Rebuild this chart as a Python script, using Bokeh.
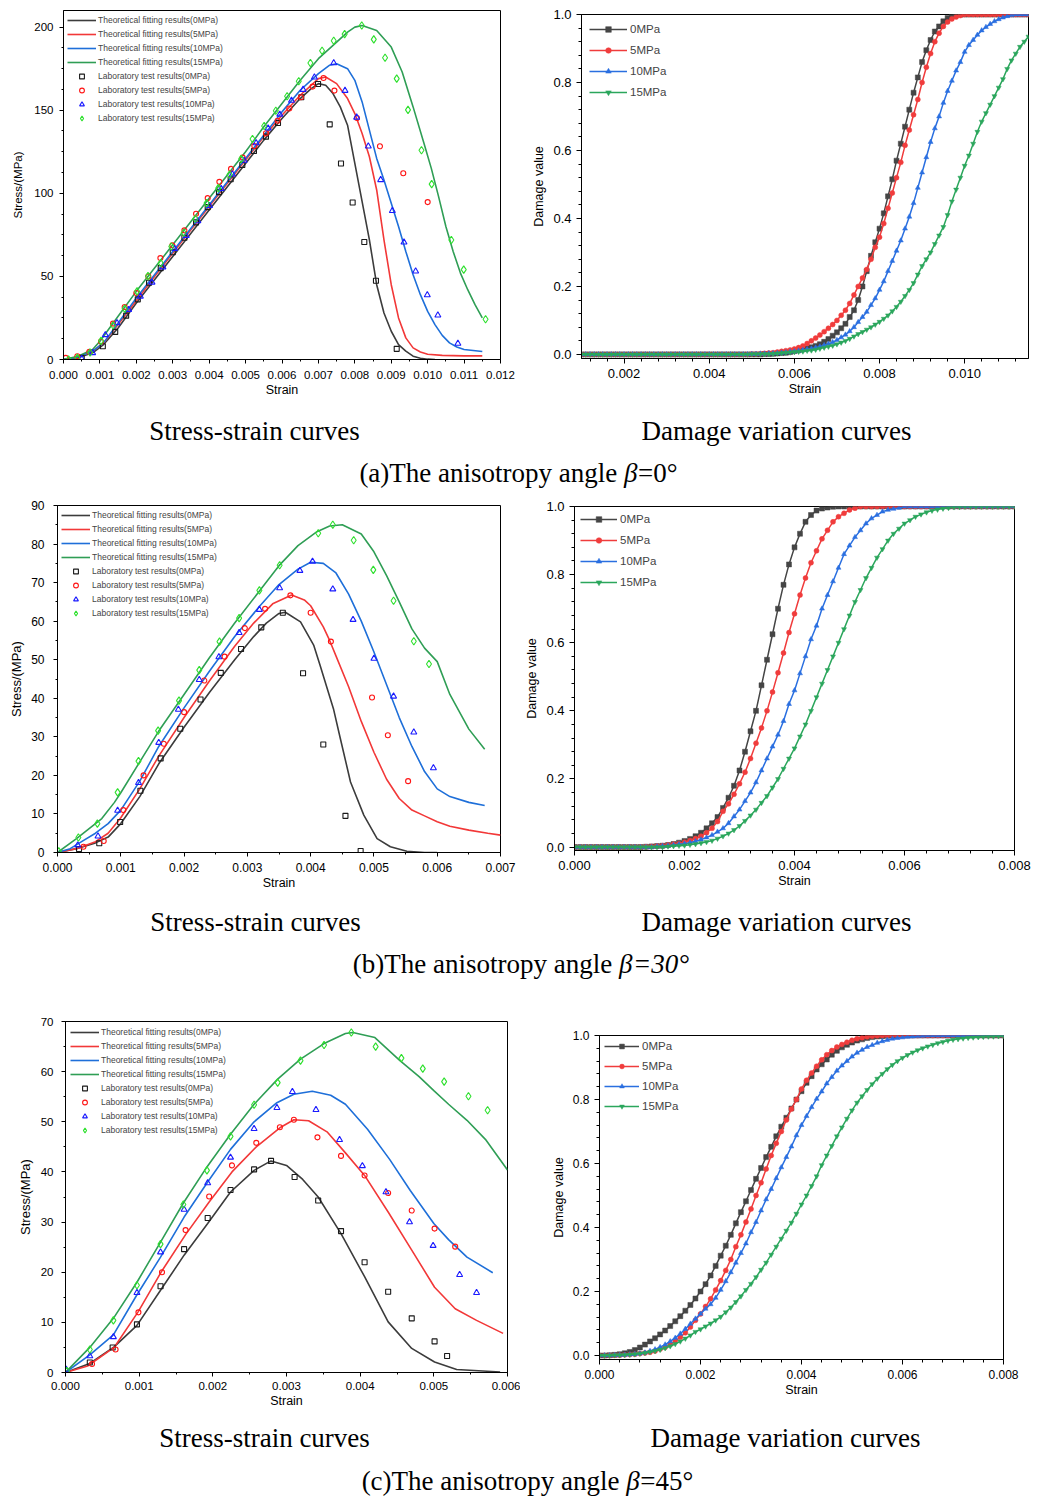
from bokeh.plotting import figure
from bokeh.layouts import column, row
from bokeh.models import Range1d, FixedTicker, PrintfTickFormatter, Legend, LegendItem
from bokeh.core.properties import value
from bokeh.embed import file_html
from bokeh.resources import INLINE

# ---------------------------------------------------------------- data
PRESSURES = ["0MPa", "5MPa", "10MPa", "15MPa"]

# ---- (a) beta = 0 deg : stress-strain
sa_fit_x = [
    [0, 0.0004, 0.0008, 0.0011, 0.0015, 0.002, 0.0025, 0.003, 0.0035, 0.004, 0.0045, 0.005, 0.0055, 0.006, 0.0065, 0.0068, 0.007, 0.0072, 0.0074, 0.0076, 0.0078, 0.008, 0.0082, 0.0084, 0.0086, 0.0088, 0.009, 0.0092, 0.0094, 0.0096, 0.0098, 0.01, 0.0102],
    [0, 0.0004, 0.0008, 0.0011, 0.0015, 0.002, 0.0025, 0.003, 0.0035, 0.004, 0.0045, 0.005, 0.0055, 0.006, 0.0065, 0.0068, 0.007, 0.0072, 0.0075, 0.0078, 0.008, 0.0082, 0.0084, 0.0086, 0.0088, 0.009, 0.0092, 0.0094, 0.0096, 0.0098, 0.01, 0.0104, 0.011, 0.0115],
    [0, 0.0004, 0.0008, 0.0011, 0.0015, 0.002, 0.0025, 0.003, 0.0035, 0.004, 0.0045, 0.005, 0.0055, 0.006, 0.0065, 0.007, 0.0073, 0.0075, 0.0078, 0.008, 0.0082, 0.0084, 0.0086, 0.0088, 0.009, 0.0092, 0.0094, 0.0096, 0.0098, 0.01, 0.0102, 0.0104, 0.0106, 0.0108, 0.011, 0.0115],
    [0, 0.0004, 0.0008, 0.001, 0.0015, 0.002, 0.0025, 0.003, 0.0035, 0.004, 0.0045, 0.005, 0.0055, 0.006, 0.0065, 0.007, 0.0075, 0.0078, 0.008, 0.0082, 0.0086, 0.009, 0.0093, 0.0096, 0.0099, 0.0101, 0.0103, 0.0105, 0.0107, 0.0109, 0.0111, 0.0113, 0.0115],
]
sa_fit_y = [
    [0, 1, 4, 9, 19, 34, 48, 62, 76, 90, 104, 118, 132, 145, 157, 163, 166, 165, 160, 152, 141, 118, 95, 72, 45, 28, 17, 9, 5, 2, 0.8, 0.2, 0],
    [0, 1.5, 5, 10, 21, 35.5, 50, 64, 78, 92, 106, 120, 134, 147, 159, 165, 169, 170, 166, 157, 148, 136, 122, 102, 72, 45, 25, 13, 7, 4.5, 3.2, 2.5, 2.2, 2.2],
    [0, 1.5, 5, 10, 22, 37, 51, 65, 79, 93, 107, 121, 135, 149, 162, 172, 177, 178, 175, 168, 155, 138, 121, 108, 94, 80, 65, 51, 39, 29, 21, 14.5, 10, 7.5, 6, 4.8],
    [0, 2, 6, 11, 26, 41, 55, 69, 83, 97, 111, 125, 140, 154, 168, 181, 191, 197, 200, 201, 198, 188, 173, 152, 130, 115, 98, 80, 65, 52, 42, 33, 25],
]
sa_lab_x = [
    [0.0005, 0.00108, 0.00142, 0.00172, 0.00204, 0.00235, 0.00267, 0.003, 0.00332, 0.00364, 0.00396, 0.00427, 0.00459, 0.00491, 0.00523, 0.00556, 0.00589, 0.00653, 0.00699, 0.00731, 0.00762, 0.00794, 0.00826, 0.00858, 0.00915],
    [0.00006, 0.00038, 0.00071, 0.00103, 0.00136, 0.00168, 0.002, 0.00233, 0.00266, 0.00299, 0.00332, 0.00364, 0.00396, 0.00428, 0.0046, 0.00492, 0.00524, 0.00556, 0.00588, 0.0062, 0.00652, 0.00684, 0.00714, 0.00744, 0.00806, 0.00869, 0.00933, 0.01],
    [0.0005, 0.0008, 0.00115, 0.00147, 0.00179, 0.00211, 0.00243, 0.00273, 0.00305, 0.00337, 0.00369, 0.00401, 0.00433, 0.00464, 0.00496, 0.00529, 0.00562, 0.00594, 0.00626, 0.00658, 0.00689, 0.00742, 0.00773, 0.00805, 0.00837, 0.00871, 0.00903, 0.00935, 0.00967, 0.00999, 0.01028, 0.01083],
    [0.00014, 0.00038, 0.00073, 0.00103, 0.00136, 0.00168, 0.00202, 0.00232, 0.00267, 0.00296, 0.0033, 0.00362, 0.00393, 0.00425, 0.00456, 0.00488, 0.00519, 0.00551, 0.00583, 0.00614, 0.00646, 0.00678, 0.0071, 0.00742, 0.00772, 0.00819, 0.00852, 0.00883, 0.00915, 0.00946, 0.00983, 0.01011, 0.01065, 0.01099, 0.01159],
]
sa_lab_y = [
    [1, 8, 16.6, 26.4, 36.2, 46.2, 55, 64.5, 73.3, 82.5, 91.7, 100.7, 108.5, 117, 125.5, 134.1, 142.3, 157.8, 165.8, 141.5, 117.9, 94.5, 70.7, 47.4, 6.4],
    [1, 2, 4.6, 10.8, 21.6, 31.6, 40, 50, 61, 68.7, 77.7, 87.7, 97.1, 106.9, 114.7, 121.5, 128.5, 136.1, 143.7, 151, 157.8, 164.2, 169.4, 161.8, 145.3, 128.3, 112.1, 94.7],
    [0.5, 4, 14.8, 22, 30, 38, 46.4, 55.6, 66.7, 74.5, 83.3, 92.5, 102.7, 111.5, 119.7, 130.3, 139.1, 147.5, 155.8, 162.4, 169.8, 178.4, 161.8, 145.7, 128.3, 108.1, 89.5, 70.5, 53.1, 38.8, 26.6, 9.6],
    [0, 1, 4.2, 11.2, 20.6, 30.6, 41, 50.2, 58, 68, 76.3, 84.7, 94.1, 103.1, 111.3, 120.7, 132.7, 140.5, 149.7, 158.4, 167.4, 178.4, 185.8, 191.8, 195.8, 201, 192.6, 181.6, 169, 150.2, 125.9, 105.5, 71.9, 54.1, 24.2],
]

# ---- (b) beta = 30 deg : stress-strain
sb_fit_x = [
    [0, 0.0003, 0.0006, 0.0008, 0.001, 0.0013, 0.0016, 0.002, 0.0024, 0.0028, 0.0031, 0.0033, 0.0035, 0.0036, 0.00384, 0.00405, 0.00415, 0.00436, 0.00447, 0.00463, 0.00484, 0.00505, 0.00526, 0.00552, 0.0058, 0.006],
    [0, 0.0003, 0.0006, 0.0008, 0.001, 0.0013, 0.0016, 0.002, 0.0024, 0.0028, 0.0031, 0.0034, 0.0037, 0.0039, 0.004, 0.0042, 0.0043, 0.0044, 0.0046, 0.0048, 0.005, 0.0052, 0.0054, 0.0056, 0.0058, 0.006, 0.0062, 0.0065, 0.0068, 0.007],
    [0, 0.0002, 0.0004, 0.0006, 0.0008, 0.001, 0.0013, 0.0016, 0.002, 0.0024, 0.0028, 0.0032, 0.0035, 0.0038, 0.004, 0.0042, 0.0044, 0.0046, 0.0048, 0.005, 0.0052, 0.0054, 0.0056, 0.0058, 0.006, 0.0062, 0.0065, 0.00675],
    [0, 0.0003, 0.0007, 0.0009, 0.001, 0.0013, 0.0016, 0.002, 0.0024, 0.0028, 0.0032, 0.0035, 0.0038, 0.0041, 0.0043, 0.0045, 0.0048, 0.005, 0.0052, 0.0054, 0.0056, 0.0058, 0.006, 0.0062, 0.0065, 0.00675],
]
sb_fit_y = [
    [0, 1, 2.5, 4, 7.5, 14.5, 23, 32.5, 41.5, 50, 56, 59.5, 62, 62.3, 59.8, 53.7, 48.5, 37.3, 29.5, 18.3, 9.7, 3.6, 1.5, 0.3, 0, 0],
    [0, 1, 2.8, 5, 9, 16.5, 25, 35, 44.5, 53.5, 59.5, 64.5, 66.8, 65.5, 64, 58.5, 55, 51, 43, 34, 26, 19, 14, 11, 9.5, 8, 6.8, 5.8, 5, 4.5],
    [0, 1, 3, 5, 7.5, 11, 18.5, 27.5, 37.5, 47, 56, 64, 69.5, 73.5, 75.3, 75, 72.5, 67, 60, 52, 43.5, 35, 27.5, 21, 16.5, 14.5, 13, 12.2],
    [0, 3.6, 8.8, 13, 15.5, 23.5, 31.5, 41, 50.5, 59.5, 68, 74.4, 79.6, 83.2, 84.7, 85, 82.6, 78, 71.8, 65, 58, 53, 49.5, 41, 32, 26.8],
]
sb_lab_x = [
    [0.00034, 0.00066, 0.00099, 0.00131, 0.00163, 0.00194, 0.00226, 0.00258, 0.0029, 0.00322, 0.00356, 0.00388, 0.0042, 0.00455, 0.00479],
    [0.00041, 0.00073, 0.00104, 0.00136, 0.00168, 0.002, 0.00232, 0.00264, 0.00296, 0.00328, 0.00368, 0.004, 0.00432, 0.00497, 0.00522, 0.00554],
    [0.00032, 0.00064, 0.00095, 0.00128, 0.0016, 0.00191, 0.00224, 0.00255, 0.00287, 0.00319, 0.00351, 0.00383, 0.00403, 0.00435, 0.00467, 0.005, 0.00531, 0.00563, 0.00594],
    [0.00002, 0.00033, 0.00063, 0.00095, 0.00128, 0.00159, 0.00192, 0.00224, 0.00256, 0.00287, 0.00319, 0.00351, 0.00412, 0.00435, 0.00468, 0.00499, 0.00531, 0.00563, 0.00587],
]
sb_lab_y = [
    [0.9, 2.4, 7.9, 16, 24.4, 32.1, 39.7, 46.6, 52.8, 58.4, 62.2, 46.5, 28, 9.5, 0.4],
    [1.5, 3, 11, 20, 28.2, 36.4, 44.6, 50.8, 58.2, 63.2, 66.7, 62.2, 54.7, 40.2, 30.4, 18.5],
    [1.9, 4.2, 10.9, 18.1, 28.5, 37.1, 44.8, 50.7, 57, 63, 68.6, 73.1, 75.5, 68.3, 60.4, 50.3, 40.5, 31.2, 21.9],
    [0.3, 3.9, 7.5, 15.6, 23.7, 31.6, 39.4, 47.3, 54.7, 60.8, 68, 74.5, 82.8, 85, 81, 73.3, 65.3, 54.8, 48.9],
]

# ---- (c) beta = 45 deg : stress-strain
sc_fit_x = [
    [0, 0.00033, 0.00066, 0.00097, 0.00129, 0.00161, 0.00193, 0.00224, 0.00256, 0.00279, 0.003, 0.00322, 0.00343, 0.00374, 0.00406, 0.00438, 0.0047, 0.00501, 0.00531, 0.0059],
    [0, 0.0003, 0.00066, 0.00099, 0.00131, 0.00163, 0.00195, 0.00226, 0.00259, 0.00291, 0.0031, 0.0033, 0.00355, 0.0038, 0.00406, 0.00438, 0.0047, 0.00501, 0.00529, 0.00558, 0.00594],
    [0, 0.00033, 0.00065, 0.00097, 0.00129, 0.00161, 0.00193, 0.00224, 0.00256, 0.00287, 0.0031, 0.00335, 0.0036, 0.0038, 0.0041, 0.0044, 0.00468, 0.005, 0.0052, 0.00545, 0.0058],
    [0, 0.00033, 0.00065, 0.00097, 0.00129, 0.0016, 0.00192, 0.00224, 0.00256, 0.00288, 0.00319, 0.00351, 0.0038, 0.0039, 0.0042, 0.00454, 0.0048, 0.005, 0.0052, 0.00545, 0.0057, 0.006],
]
sc_fit_y = [
    [0, 1.8, 5.1, 9.4, 16.4, 23.4, 29.7, 36, 40.3, 42.2, 41.3, 38.5, 35, 27.7, 19.1, 10.1, 4.8, 2.1, 0.6, 0.1],
    [0, 1.3, 5, 12.2, 20.3, 27.5, 34, 40, 45, 48.8, 50.4, 50.2, 48, 43.8, 39.3, 32, 24.4, 17, 12.7, 10.4, 7.8],
    [0, 3.5, 7.5, 15.5, 23, 31, 38, 44.5, 50, 53.8, 55.5, 56.1, 55.3, 53.5, 48.5, 42.5, 36.3, 29.7, 26.5, 23, 19.9],
    [0, 5, 10.8, 18, 26, 33.8, 41, 47.5, 53.5, 58.5, 62.5, 65.6, 67.6, 67.8, 66.8, 62.2, 59, 56.2, 53.5, 50.3, 46.5, 40.4],
]
sc_lab_x = [
    [0.00033, 0.00064, 0.00097, 0.00129, 0.00161, 0.00193, 0.00224, 0.00256, 0.00279, 0.00311, 0.00343, 0.00374, 0.00406, 0.00438, 0.0047, 0.00501, 0.00518],
    [0.00036, 0.00068, 0.00099, 0.00131, 0.00163, 0.00195, 0.00226, 0.00259, 0.00291, 0.0031, 0.00342, 0.00374, 0.00406, 0.00438, 0.0047, 0.00501, 0.00529],
    [0.00001, 0.00033, 0.00065, 0.00097, 0.00129, 0.00161, 0.00193, 0.00224, 0.00256, 0.00287, 0.00308, 0.0034, 0.00372, 0.00403, 0.00435, 0.00467, 0.00499, 0.00535, 0.00558],
    [0.00002, 0.00033, 0.00065, 0.00097, 0.00129, 0.0016, 0.00192, 0.00224, 0.00256, 0.00288, 0.00319, 0.00351, 0.00388, 0.00421, 0.00456, 0.00485, 0.00514, 0.00547, 0.00573],
]
sc_lab_y = [
    [2, 5, 9.6, 17.2, 24.6, 30.8, 36.4, 40.5, 42.2, 39, 34.3, 28.2, 22, 16.1, 10.8, 6.2, 3.3],
    [1.7, 4.6, 12, 20, 28.4, 35.1, 41.3, 45.8, 48.9, 50.4, 46.9, 43.2, 39.3, 35.8, 32.3, 28.7, 25.1],
    [0.6, 3.3, 7.1, 15.9, 24, 32.5, 37.8, 42.9, 48.6, 52.8, 56, 52.4, 46.4, 41.2, 36, 30, 25.3, 19.5, 15.9],
    [0.3, 4.6, 10.4, 17.4, 25.6, 33.5, 40.3, 47.1, 53.4, 57.8, 62.2, 65.3, 67.8, 65, 62.7, 60.6, 58, 55.1, 52.3],
]

# ---- damage curves: strain sampled every 0.0001
da_strain = [round(0.001 + 0.0001 * i, 4) for i in range(106)]   # 0.0010 .. 0.0115
db_strain = [round(0.0001 * i, 4) for i in range(81)]            # 0.0000 .. 0.0080
dc_strain = [round(0.0001 * i, 4) for i in range(81)]


def plateau(n_zero, vals, n_total):
    out = [0.0] * n_zero + list(vals)
    out = out + [1.0] * (n_total - len(out))
    return out[:n_total]


da_val = [
    plateau(40, [0, 0, 0, 0.001, 0.001, 0.002, 0.003, 0.004, 0.005, 0.007, 0.010, 0.012, 0.015, 0.018, 0.021, 0.025, 0.030, 0.037, 0.045, 0.055, 0.065, 0.077, 0.090, 0.110, 0.130, 0.160, 0.200, 0.245, 0.290, 0.330, 0.370, 0.415, 0.465, 0.515, 0.570, 0.620, 0.670, 0.720, 0.770, 0.815, 0.860, 0.895, 0.925, 0.950, 0.965, 0.980, 0.990, 0.997, 1.0], 106),
    plateau(40, [0.001, 0.001, 0.002, 0.003, 0.004, 0.005, 0.007, 0.009, 0.011, 0.013, 0.016, 0.020, 0.025, 0.032, 0.040, 0.048, 0.057, 0.067, 0.077, 0.088, 0.100, 0.115, 0.130, 0.150, 0.175, 0.200, 0.225, 0.250, 0.280, 0.315, 0.345, 0.385, 0.430, 0.475, 0.520, 0.565, 0.615, 0.660, 0.705, 0.750, 0.800, 0.845, 0.885, 0.920, 0.945, 0.965, 0.978, 0.987, 0.993, 0.997, 1.0], 106),
    plateau(40, [0.001, 0.001, 0.002, 0.002, 0.003, 0.003, 0.004, 0.005, 0.006, 0.008, 0.009, 0.011, 0.013, 0.015, 0.017, 0.020, 0.023, 0.027, 0.031, 0.036, 0.042, 0.050, 0.058, 0.068, 0.080, 0.095, 0.110, 0.125, 0.145, 0.165, 0.190, 0.215, 0.245, 0.275, 0.305, 0.335, 0.370, 0.405, 0.445, 0.490, 0.535, 0.580, 0.625, 0.665, 0.700, 0.740, 0.775, 0.805, 0.835, 0.860, 0.890, 0.910, 0.925, 0.940, 0.953, 0.963, 0.972, 0.980, 0.986, 0.991, 0.995, 0.998, 1.0], 106),
    plateau(40, [0.001, 0.001, 0.001, 0.001, 0.001, 0.002, 0.003, 0.004, 0.005, 0.006, 0.007, 0.008, 0.009, 0.011, 0.012, 0.014, 0.017, 0.020, 0.023, 0.026, 0.030, 0.035, 0.040, 0.046, 0.053, 0.060, 0.066, 0.073, 0.080, 0.088, 0.096, 0.105, 0.115, 0.127, 0.140, 0.155, 0.172, 0.190, 0.210, 0.235, 0.260, 0.280, 0.300, 0.325, 0.350, 0.375, 0.410, 0.450, 0.485, 0.520, 0.555, 0.585, 0.620, 0.655, 0.685, 0.710, 0.735, 0.760, 0.785, 0.810, 0.840, 0.865, 0.885, 0.905, 0.920, 0.935], 106),
]
db_val = [
    plateau(13, [0.001, 0.002, 0.003, 0.004, 0.006, 0.009, 0.013, 0.018, 0.024, 0.032, 0.042, 0.055, 0.070, 0.088, 0.115, 0.145, 0.180, 0.225, 0.280, 0.340, 0.400, 0.475, 0.550, 0.625, 0.700, 0.770, 0.830, 0.880, 0.920, 0.955, 0.975, 0.988, 0.994, 0.997, 0.999, 1.0], 81),
    plateau(13, [0.001, 0.002, 0.003, 0.004, 0.006, 0.008, 0.010, 0.014, 0.019, 0.025, 0.032, 0.042, 0.055, 0.075, 0.105, 0.127, 0.155, 0.186, 0.220, 0.260, 0.305, 0.350, 0.400, 0.455, 0.512, 0.570, 0.630, 0.685, 0.740, 0.790, 0.835, 0.870, 0.905, 0.930, 0.955, 0.970, 0.980, 0.990, 0.995, 1.0], 81),
    plateau(15, [0.002, 0.003, 0.004, 0.006, 0.008, 0.010, 0.013, 0.017, 0.022, 0.028, 0.035, 0.045, 0.055, 0.070, 0.090, 0.110, 0.135, 0.160, 0.190, 0.225, 0.260, 0.295, 0.330, 0.370, 0.420, 0.460, 0.510, 0.560, 0.610, 0.650, 0.700, 0.740, 0.780, 0.820, 0.860, 0.885, 0.910, 0.930, 0.950, 0.965, 0.975, 0.985, 0.990, 0.993, 0.996, 1.0], 81),
    plateau(17, [0.002, 0.003, 0.004, 0.005, 0.007, 0.009, 0.012, 0.015, 0.019, 0.025, 0.032, 0.040, 0.050, 0.062, 0.077, 0.093, 0.110, 0.130, 0.150, 0.175, 0.200, 0.230, 0.260, 0.290, 0.325, 0.360, 0.400, 0.440, 0.480, 0.520, 0.560, 0.600, 0.640, 0.680, 0.720, 0.755, 0.790, 0.820, 0.850, 0.875, 0.900, 0.920, 0.935, 0.950, 0.960, 0.970, 0.977, 0.983, 0.988, 0.991, 0.994, 0.996, 0.998, 0.999, 1.0], 81),
]
dc_val = [
    plateau(0, [0, 0, 0.001, 0.002, 0.004, 0.007, 0.011, 0.017, 0.025, 0.034, 0.044, 0.054, 0.066, 0.078, 0.092, 0.107, 0.123, 0.140, 0.158, 0.178, 0.200, 0.223, 0.250, 0.280, 0.312, 0.343, 0.377, 0.413, 0.448, 0.482, 0.517, 0.552, 0.586, 0.620, 0.652, 0.685, 0.715, 0.743, 0.772, 0.800, 0.826, 0.852, 0.873, 0.894, 0.910, 0.925, 0.940, 0.952, 0.963, 0.971, 0.978, 0.984, 0.988, 0.992, 0.995, 0.997, 0.998, 0.999], 81),
    plateau(0, [0, 0, 0, 0.001, 0.001, 0.002, 0.003, 0.004, 0.006, 0.008, 0.010, 0.014, 0.020, 0.026, 0.034, 0.045, 0.057, 0.071, 0.089, 0.110, 0.130, 0.153, 0.177, 0.205, 0.234, 0.266, 0.300, 0.340, 0.377, 0.417, 0.458, 0.500, 0.540, 0.583, 0.625, 0.663, 0.700, 0.736, 0.770, 0.800, 0.833, 0.860, 0.883, 0.904, 0.924, 0.940, 0.953, 0.964, 0.972, 0.979, 0.985, 0.990, 0.993, 0.996, 0.998, 0.999], 81),
    plateau(0, [0, 0, 0, 0.001, 0.001, 0.002, 0.003, 0.004, 0.006, 0.009, 0.014, 0.019, 0.026, 0.034, 0.044, 0.055, 0.068, 0.083, 0.099, 0.115, 0.130, 0.146, 0.160, 0.180, 0.205, 0.232, 0.260, 0.290, 0.320, 0.350, 0.385, 0.417, 0.453, 0.488, 0.520, 0.554, 0.588, 0.620, 0.653, 0.688, 0.720, 0.748, 0.776, 0.802, 0.825, 0.850, 0.870, 0.890, 0.906, 0.920, 0.934, 0.946, 0.955, 0.964, 0.970, 0.977, 0.982, 0.986, 0.990, 0.992, 0.994, 0.996, 0.997, 0.998, 0.999], 81),
    plateau(0, [0, 0, 0, 0.001, 0.001, 0.002, 0.003, 0.004, 0.006, 0.008, 0.011, 0.014, 0.018, 0.023, 0.029, 0.036, 0.044, 0.053, 0.063, 0.074, 0.082, 0.091, 0.100, 0.110, 0.121, 0.135, 0.150, 0.167, 0.185, 0.205, 0.224, 0.245, 0.268, 0.290, 0.315, 0.340, 0.365, 0.390, 0.415, 0.443, 0.472, 0.500, 0.530, 0.560, 0.595, 0.625, 0.655, 0.685, 0.713, 0.740, 0.766, 0.790, 0.810, 0.830, 0.848, 0.865, 0.880, 0.895, 0.908, 0.920, 0.930, 0.939, 0.947, 0.954, 0.960, 0.966, 0.971, 0.976, 0.980, 0.984, 0.987, 0.989, 0.991, 0.993, 0.994, 0.995, 0.996, 0.997, 0.997, 0.998, 0.998], 81),
]

# ---------------------------------------------------------------- style
SANS = "Liberation Sans"
SERIF = "Liberation Serif"
FIT_COLS = ["#3c3c3c", "#f23838", "#1e6fd9", "#2f9e55"]
LAB_COLS = ["#1a1a1a", "#ff1414", "#1a1aff", "#2ee02e"]
LAB_MK = ["square", "circle", "triangle", "diamond"]
LAB_SZ = [5, 5, 6, 7.5]
DMG_COLS = ["#454545", "#f03c3c", "#2a6fe0", "#2ba65c"]
DMG_MK = ["square", "circle", "triangle", "inverted_triangle"]


def base_fig(w, h, bl, br, bt, bb, xr, yr):
    p = figure(width=w, height=h, x_range=Range1d(*xr), y_range=Range1d(*yr),
               min_border_left=bl, min_border_right=br, min_border_top=bt, min_border_bottom=bb,
               toolbar_location=None, output_backend="svg", tools="")
    p.frame_align = False
    p.grid.visible = False
    p.outline_line_color = "black"
    p.outline_line_width = 1
    p.outline_line_alpha = 1
    p.background_fill_color = "white"
    p.border_fill_color = "white"
    return p


def style_axes(p, xt, xm, yt, ym, xfmt, yfmt, fs_tick, fs_xlab, fs_ylab, xlab, ylab,
               xls=6, yls=6, xas=2, yas=6, tick_out=4, minor_out=2):
    p.xaxis.ticker = FixedTicker(ticks=xt, minor_ticks=xm)
    p.yaxis.ticker = FixedTicker(ticks=yt, minor_ticks=ym)
    p.xaxis.formatter = PrintfTickFormatter(format=xfmt)
    p.yaxis.formatter = PrintfTickFormatter(format=yfmt)
    p.xaxis.axis_label = xlab
    p.yaxis.axis_label = ylab
    for ax in (p.xaxis[0], p.yaxis[0]):
        ax.axis_line_color = "black"
        ax.axis_line_width = 1
        ax.major_tick_line_color = "black"
        ax.minor_tick_line_color = "black"
        ax.major_tick_in = 0
        ax.major_tick_out = tick_out
        ax.minor_tick_in = 0
        ax.minor_tick_out = minor_out
        ax.major_label_text_font = SANS
        ax.major_label_text_font_size = fs_tick
        ax.major_label_text_color = "black"
        ax.axis_label_text_font = SANS
        ax.axis_label_text_font_style = "normal"
        ax.axis_label_text_color = "black"
    p.xaxis.axis_label_text_font_size = fs_xlab
    p.yaxis.axis_label_text_font_size = fs_ylab
    p.xaxis.major_label_standoff = xls
    p.yaxis.major_label_standoff = yls
    p.xaxis.axis_label_standoff = xas
    p.yaxis.axis_label_standoff = yas


def stress_plot(w, h, bl, br, bt, bb, xr, yr, fx, fy, lx, ly, off, ticks, fonts):
    p = base_fig(w, h, bl, br, bt, bb, xr, yr)
    items = []
    for i in range(4):
        r = p.line(fx[i], fy[i], line_color=FIT_COLS[i], line_width=1.6)
        items.append(LegendItem(label="Theoretical fitting results(%s)" % PRESSURES[i], renderers=[r]))
    for i in range(4):
        r = p.scatter(lx[i], ly[i], marker=LAB_MK[i], size=LAB_SZ[i], fill_color=None,
                      line_color=LAB_COLS[i], line_width=1.1)
        items.append(LegendItem(label="Laboratory test results(%s)" % PRESSURES[i], renderers=[r]))
    leg = Legend(items=items, location="top_left", margin=off, padding=0,
                 border_line_color=None, background_fill_alpha=0,
                 label_text_font=SANS, label_text_font_size="8.5px",
                 glyph_width=29, glyph_height=12, label_height=12, spacing=2, label_standoff=2)
    p.add_layout(leg)
    style_axes(p, *ticks, "%.3f", "%d", fonts[0], fonts[1], fonts[2], "Strain", "Stress/(MPa)",
               xls=fonts[3], yls=fonts[4], xas=fonts[5], yas=fonts[6])
    return p


def damage_plot(w, h, bl, br, bt, bb, xr, yr, sx, vals, off, gh, sp, gw, ticks, fonts):
    p = base_fig(w, h, bl, br, bt, bb, xr, yr)
    items = []
    for i in range(4):
        rl = p.line(sx, vals[i], line_color=DMG_COLS[i], line_width=1.5)
        rs = p.scatter(sx, vals[i], marker=DMG_MK[i], size=5, fill_color=DMG_COLS[i],
                       line_color=DMG_COLS[i], line_width=0.5)
        items.append(LegendItem(label=PRESSURES[i], renderers=[rl, rs]))
    leg = Legend(items=items, location="top_left", margin=off, padding=0,
                 border_line_color=None, background_fill_alpha=0,
                 label_text_font=SANS, label_text_font_size="11.5px",
                 glyph_width=gw, glyph_height=gh, label_height=gh, spacing=sp, label_standoff=3)
    p.add_layout(leg)
    style_axes(p, *ticks, "%.3f", "%.1f", fonts[0], "12.5px", "12.5px", "Strain", "Damage value",
               xls=fonts[1], yls=fonts[2], xas=fonts[3], yas=fonts[4], tick_out=5, minor_out=3)
    return p


def caption_fig(h, simple, beta_line):
    p = figure(width=1040, height=h, x_range=Range1d(0, 1040), y_range=Range1d(h, 0),
               min_border=0, toolbar_location=None, output_backend="svg", tools="",
               x_axis_location=None, y_axis_location=None)
    p.frame_align = False
    p.grid.visible = False
    p.outline_line_color = None
    fs = 27
    for (cx, cy, s) in simple:
        p.text(x=[cx], y=[cy], text=[s], text_font=value(SERIF), text_font_size=value("%dpx" % fs),
               text_align="center", text_baseline="middle", text_color="black")
    cx, cy, prefix, pem, suffix, sem, sital = beta_line
    w1 = pem * fs
    wb = 0.52 * fs
    w2 = sem * fs
    x0 = cx - (w1 + wb + w2) / 2.0
    p.text(x=[x0], y=[cy], text=[prefix], text_font=value(SERIF), text_font_size=value("%dpx" % fs),
           text_align="left", text_baseline="middle", text_color="black")
    p.text(x=[x0 + w1], y=[cy], text=["β"], text_font=value(SERIF), text_font_size=value("%dpx" % fs),
           text_font_style="italic", text_align="left", text_baseline="middle", text_color="black")
    p.text(x=[x0 + w1 + wb], y=[cy], text=[suffix], text_font=value(SERIF), text_font_size=value("%dpx" % fs),
           text_font_style="italic" if sital else "normal",
           text_align="left", text_baseline="middle", text_color="black")
    return p


def steps(a, b, d):
    n = int(round((b - a) / d))
    return [round(a + d * i, 6) for i in range(n + 1)]


# ---------------------------------------------------------------- row (a)
pA1 = stress_plot(520, 405, 63, 20, 10, 46, (0, 0.012), (0, 210),
                  sa_fit_x, sa_fit_y, sa_lab_x, sa_lab_y, 4,
                  (steps(0, 0.012, 0.001), steps(0, 0.012, 0.0005), steps(0, 200, 50), steps(0, 200, 12.5)),
                  ("11.5px", "12.5px", "11.5px", 7, 6, 1, 7))
pA2 = damage_plot(520, 405, 61, 12, 14, 47, (0.001, 0.0115), (-0.012, 1.0),
                  da_strain, da_val, 8, 14, 7, 38,
                  (steps(0.002, 0.010, 0.002), steps(0.0012, 0.0112, 0.0004), steps(0, 1.0, 0.2), steps(0, 1.0, 0.04)),
                  ("13px", 5, 5, 1, 4))
capA = caption_fig(90, [(254, 25, "Stress-strain curves"), (776, 25, "Damage variation curves")],
                   (518, 67, "(a)The anisotropy angle ", 9.803, "=0°", 1.464, False))

# ---------------------------------------------------------------- row (b)
pB1 = stress_plot(520, 400, 57, 20, 10, 43, (0, 0.007), (0, 90),
                  sb_fit_x, sb_fit_y, sb_lab_x, sb_lab_y, 4,
                  (steps(0, 0.007, 0.001), steps(0, 0.007, 0.0005), steps(0, 90, 10), steps(0, 90, 5)),
                  ("12px", "12.5px", "13px", 6, 9, 1, 4))
pB2 = damage_plot(520, 400, 54, 26, 11, 45, (0, 0.008), (-0.01, 1.0),
                  db_strain, db_val, 6, 14, 7, 37,
                  (steps(0, 0.008, 0.002), steps(0, 0.008, 0.0004), steps(0, 1.0, 0.2), steps(0, 1.0, 0.04)),
                  ("13px", 5, 5, 1, 4))
capB = caption_fig(110, [(255, 26, "Stress-strain curves"), (776, 26, "Damage variation curves")],
                   (519, 68, "(b)The anisotropy angle ", 9.859, "=30°", 1.964, True))

# ---------------------------------------------------------------- row (c)
pC1 = stress_plot(520, 405, 65, 13, 16, 38, (0, 0.006), (0, 70),
                  sc_fit_x, sc_fit_y, sc_lab_x, sc_lab_y, 5,
                  (steps(0, 0.006, 0.001), steps(0, 0.006, 0.0005), steps(0, 70, 10), steps(0, 70, 5)),
                  ("11.5px", "12.5px", "13px", 5, 8, 1, 5))
pC2 = damage_plot(520, 405, 79, 37, 30, 51, (0, 0.008), (-0.0125, 1.0),
                  dc_strain, dc_val, 5, 12, 8, 35,
                  (steps(0, 0.008, 0.002), steps(0, 0.008, 0.0004), steps(0, 1.0, 0.2), steps(0, 1.0, 0.04)),
                  ("12px", 5, 5, 1, 4))
capC = caption_fig(86, [(264, 27, "Stress-strain curves"), (785, 27, "Damage variation curves")],
                   (527, 70, "(c)The anisotropy angle ", 9.803, "=45°", 1.964, False))

layout = column(row(pA1, pA2), capA, row(pB1, pB2), capB, row(pC1, pC2), capC)

open("out.html", "w").write(file_html(layout, INLINE))
